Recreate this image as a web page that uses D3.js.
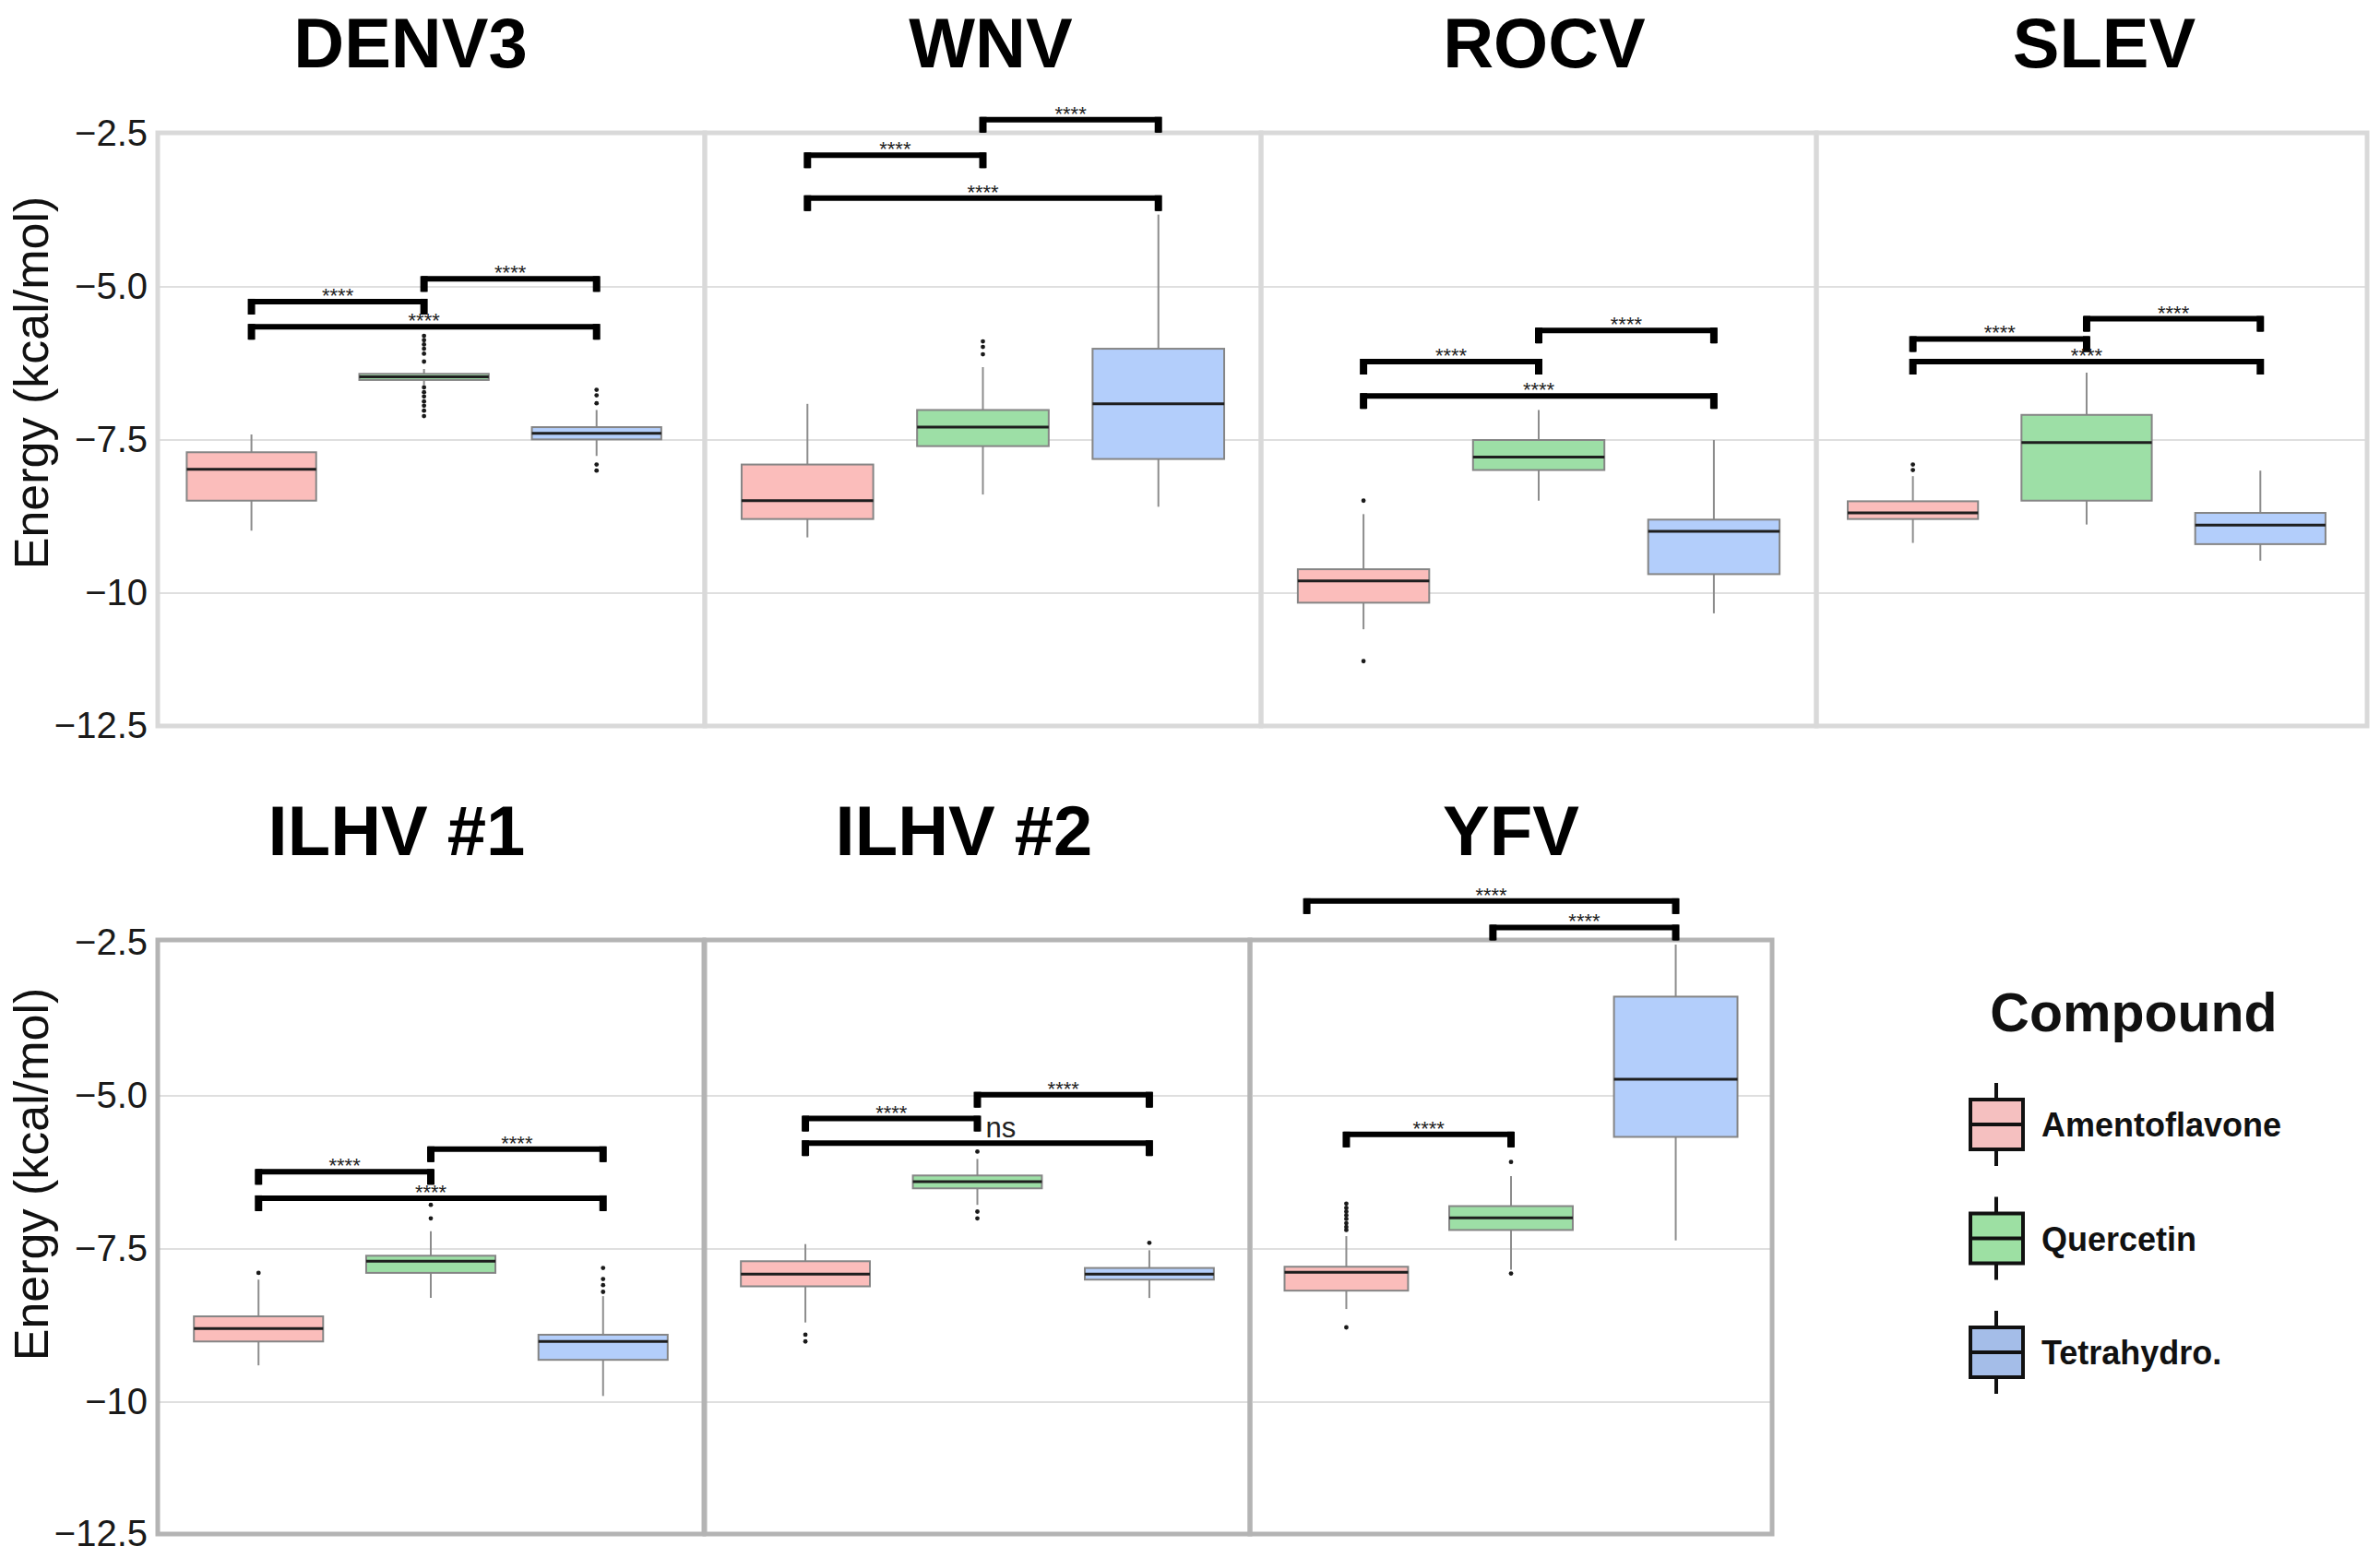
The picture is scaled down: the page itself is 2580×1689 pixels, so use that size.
<!DOCTYPE html>
<html>
<head>
<meta charset="utf-8">
<script src="https://cdn.jsdelivr.net/npm/d3@7"></script>
<style>
  html, body { margin: 0; padding: 0; background: #ffffff; }
  svg { display: block; font-family: "Liberation Sans", Arial, Helvetica, sans-serif; }
</style>
</head>
<body>
<svg id="chart" width="2580" height="1689"></svg>
<script>
// ---------------- DATA ----------------
const viruses = ["DENV3", "WNV", "ROCV", "SLEV", "ILHV #1", "ILHV #2", "YFV"];
const compounds = ["Amentoflavone", "Quercetin", "Tetrahydro."];
const yTickValues = [-2.5, -5, -7.5, -10, -12.5];
const yTickLabels = ["−2.5", "−5.0", "−7.5", "−10", "−12.5"];
const gridValues = [-5, -7.5, -10];

// five-number summaries per virus: [lower whisker, Q1, median, Q3, upper whisker]
const amentoflavoneStats = [
  [-8.98, -8.49, -7.98, -7.70, -7.41],
  [-9.09, -8.79, -8.49, -7.90, -6.91],
  [-10.68, -10.18, -9.80, -9.61, -8.71],
  [-9.18, -8.79, -8.69, -8.50, -8.09],
  [-9.40, -9.01, -8.80, -8.60, -8.00],
  [-8.70, -8.11, -7.91, -7.70, -7.42],
  [-8.48, -8.18, -7.88, -7.79, -7.29]
];
const quercetinStats = [
  [-6.60, -6.52, -6.47, -6.42, -6.34],
  [-8.39, -7.60, -7.29, -7.01, -6.31],
  [-8.49, -7.99, -7.78, -7.50, -7.01],
  [-8.88, -8.49, -7.54, -7.09, -6.40],
  [-8.30, -7.89, -7.70, -7.61, -7.21],
  [-6.78, -6.51, -6.40, -6.30, -6.03],
  [-7.84, -7.19, -6.99, -6.80, -6.31]
];
const tetrahydroStats = [
  [-7.76, -7.49, -7.39, -7.29, -7.01],
  [-8.59, -7.81, -6.91, -6.01, -3.82],
  [-10.38, -9.69, -8.99, -8.80, -7.50],
  [-9.47, -9.20, -8.89, -8.69, -8.00],
  [-9.90, -9.31, -9.01, -8.90, -8.27],
  [-8.30, -8.00, -7.91, -7.81, -7.52],
  [-7.36, -5.67, -4.73, -3.38, -2.53]
];

// outlier points per virus
const amentoflavoneOutliers = [
  [],
  [],
  [-8.49, -11.28],
  [-7.90, -7.99],
  [-7.89],
  [-8.90, -9.01],
  [-6.76, -6.83, -6.89, -6.95, -7.01, -7.08, -7.14, -7.19, -8.78]
];
const quercetinOutliers = [
  [-5.80, -5.87, -5.94, -6.01, -6.09, -6.22, -6.64, -6.72, -6.79, -6.87, -6.94, -7.02, -7.11],
  [-5.89, -5.98, -6.10],
  [],
  [],
  [-6.78, -7.00],
  [-5.91, -6.89, -7.00],
  [-6.08, -7.90]
];
const tetrahydroOutliers = [
  [-6.68, -6.77, -6.90, -7.90, -8.00],
  [],
  [],
  [],
  [-7.81, -7.99, -8.09, -8.20],
  [-7.40],
  []
];

// significance brackets: [virus, from group, to group, level (kcal/mol), label]
const brackets = [
  ["DENV3", 0, 1, -5.24, "****"], ["DENV3", 1, 2, -4.87, "****"], ["DENV3", 0, 2, -5.65, "****"],
  ["WNV", 0, 1, -2.85, "****"], ["WNV", 1, 2, -2.27, "****"], ["WNV", 0, 2, -3.55, "****"],
  ["ROCV", 0, 1, -6.22, "****"], ["ROCV", 1, 2, -5.71, "****"], ["ROCV", 0, 2, -6.78, "****"],
  ["SLEV", 0, 1, -5.85, "****"], ["SLEV", 1, 2, -5.52, "****"], ["SLEV", 0, 2, -6.22, "****"],
  ["ILHV #1", 0, 1, -6.24, "****"], ["ILHV #1", 1, 2, -5.87, "****"], ["ILHV #1", 0, 2, -6.67, "****"],
  ["ILHV #2", 0, 1, -5.37, "****"], ["ILHV #2", 1, 2, -4.98, "****"], ["ILHV #2", 0, 2, -5.77, "ns"],
  ["YFV", 0, 1, -5.63, "****"], ["YFV", 0.89, 2, -2.25, "****"], ["YFV", -0.24, 2, -1.82, "****"]
];

// ---------------- STYLE / LAYOUT ----------------
const boxFills = ["#fbbdbb", "#9ddfa6", "#b3cefb"];
const legendFills = ["#f5c0c0", "#9de0a3", "#a4bde8"];

const rowsLayout = [
  { top: 144, bottom: 787, yTop: 145, y10: 643, titleY: 73, axisTitleY: 415, border: "#d9d9d9" },
  { top: 1019, bottom: 1663, yTop: 1022, y10: 1520, titleY: 927, axisTitleY: 1273, border: "#b4b4b4" }
];
rowsLayout.forEach(r => {
  r.y = d3.scaleLinear().domain([-12.5, -10, -2.5]).range([r.bottom, r.y10, r.yTop]);
});

const panelLayout = [
  { row: 0, x0: 171, x1: 764, align: 0.40, titleX: 445 },
  { row: 0, x0: 764, x1: 1367, align: 0.50, titleX: 1074 },
  { row: 0, x0: 1367, x1: 1969, align: 0.50, titleX: 1674 },
  { row: 0, x0: 1969, x1: 2566, align: 0.43, titleX: 2281 },
  { row: 1, x0: 171, x1: 763, align: 0.50, titleX: 430 },
  { row: 1, x0: 764, x1: 1355, align: 0.50, titleX: 1045 },
  { row: 1, x0: 1355, x1: 1921, align: 0.50, titleX: 1638 }
];

const statsByCompound = [amentoflavoneStats, quercetinStats, tetrahydroStats];
const outliersByCompound = [amentoflavoneOutliers, quercetinOutliers, tetrahydroOutliers];

const svg = d3.select("#chart");

// ---------------- PANELS ----------------
viruses.forEach((virus, i) => {
  const L = panelLayout[i];
  const R = rowsLayout[L.row];
  const y = R.y;
  const x = d3.scaleBand().domain(compounds).range([L.x0, L.x1])
    .paddingInner(0.25).paddingOuter(0.21).align(L.align);
  const bw = x.bandwidth();
  const cx = c => x(c) + bw / 2;

  const g = svg.append("g").attr("class", "panel");

  // gridlines
  g.selectAll("line.grid").data(gridValues).join("line")
    .attr("class", "grid")
    .attr("x1", L.x0).attr("x2", L.x1)
    .attr("y1", d => y(d)).attr("y2", d => y(d))
    .attr("stroke", "#dfdfdf").attr("stroke-width", 2);

  const boxes = compounds.map((c, j) => ({
    c, j, s: statsByCompound[j][i], o: outliersByCompound[j][i]
  }));

  const bg = g.selectAll("g.box").data(boxes).join("g").attr("class", "box");

  // whiskers
  bg.append("line")
    .attr("x1", d => cx(d.c)).attr("x2", d => cx(d.c))
    .attr("y1", d => y(d.s[4])).attr("y2", d => y(d.s[3]))
    .attr("stroke", "#8c8c8c").attr("stroke-width", 2);
  bg.append("line")
    .attr("x1", d => cx(d.c)).attr("x2", d => cx(d.c))
    .attr("y1", d => y(d.s[1])).attr("y2", d => y(d.s[0]))
    .attr("stroke", "#8c8c8c").attr("stroke-width", 2);

  // box
  bg.append("rect")
    .attr("x", d => x(d.c)).attr("width", bw)
    .attr("y", d => y(d.s[3])).attr("height", d => y(d.s[1]) - y(d.s[3]))
    .attr("fill", d => boxFills[d.j])
    .attr("stroke", "#858585").attr("stroke-width", 2);

  // median
  bg.append("line")
    .attr("x1", d => x(d.c)).attr("x2", d => x(d.c) + bw)
    .attr("y1", d => y(d.s[2])).attr("y2", d => y(d.s[2]))
    .attr("stroke", "#1e1e1e").attr("stroke-width", 3);

  // outliers
  bg.each(function (d) {
    d3.select(this).selectAll("circle").data(d.o).join("circle")
      .attr("cx", cx(d.c)).attr("cy", v => y(v)).attr("r", 2.4)
      .attr("fill", "#1a1a1a");
  });

  // panel border
  g.append("rect")
    .attr("x", L.x0).attr("y", R.top)
    .attr("width", L.x1 - L.x0).attr("height", R.bottom - R.top)
    .attr("fill", "none").attr("stroke", R.border).attr("stroke-width", 5);

  // significance brackets
  const xi = d3.scaleLinear().domain([0, 2]).range([cx(compounds[0]), cx(compounds[2])]);
  const bData = brackets.filter(b => b[0] === virus);
  const tick = 14;
  g.selectAll("path.bracket").data(bData).join("path")
    .attr("class", "bracket")
    .attr("d", b => {
      const x1 = xi(b[1]), x2 = xi(b[2]), yy = y(b[3]);
      return `M${x1},${yy + tick}V${yy}H${x2}V${yy + tick}`;
    })
    .attr("fill", "none").attr("stroke", "#000").attr("stroke-width", 6)
    .attr("stroke-linejoin", "miter");
  // heavier end ticks
  const ends = bData.flatMap(b => [{ xv: xi(b[1]), yy: y(b[3]) }, { xv: xi(b[2]), yy: y(b[3]) }]);
  g.selectAll("line.bend").data(ends).join("line")
    .attr("class", "bend")
    .attr("x1", e => e.xv).attr("x2", e => e.xv)
    .attr("y1", e => e.yy - 3).attr("y2", e => e.yy + tick)
    .attr("stroke", "#000").attr("stroke-width", 8);

  g.selectAll("text.sig").data(bData).join("text")
    .attr("class", "sig")
    .attr("x", b => b[4] === "ns" ? (xi(b[1]) + xi(b[2])) / 2 + 9 : (xi(b[1]) + xi(b[2])) / 2)
    .attr("y", b => b[4] === "ns" ? y(b[3]) - 6 : y(b[3]) + 1)
    .attr("text-anchor", b => b[4] === "ns" ? "start" : "middle")
    .attr("font-size", b => b[4] === "ns" ? 31 : 22)
    .attr("fill", "#222")
    .text(b => b[4]);

  // title
  svg.append("text")
    .attr("x", L.titleX).attr("y", R.titleY)
    .attr("text-anchor", "middle")
    .attr("font-size", 76).attr("font-weight", "bold")
    .attr("fill", "#000")
    .text(virus);
});

// ---------------- Y AXES ----------------
rowsLayout.forEach(R => {
  const ax = svg.append("g")
    .attr("transform", `translate(171,0)`)
    .call(d3.axisLeft(R.y).tickValues(yTickValues)
      .tickFormat((d, k) => yTickLabels[k]).tickSize(0).tickPadding(11));
  ax.select(".domain").remove();
  ax.selectAll("text")
    .attr("font-size", 40)
    .attr("font-family", "'Liberation Sans', Arial, Helvetica, sans-serif")
    .attr("fill", "#1a1a1a");

  svg.append("text")
    .attr("transform", `translate(52,${R.axisTitleY}) rotate(-90)`)
    .attr("text-anchor", "middle")
    .attr("font-size", 52)
    .attr("fill", "#111")
    .text("Energy (kcal/mol)");
});

// ---------------- LEGEND ----------------
const legend = svg.append("g").attr("class", "legend");
legend.append("text")
  .attr("x", 2313).attr("y", 1118)
  .attr("text-anchor", "middle")
  .attr("font-size", 59).attr("font-weight", "bold")
  .attr("fill", "#111")
  .text("Compound");

const legendY = d3.scalePoint().domain(compounds).range([1219, 1466]);
const items = legend.selectAll("g.item").data(compounds).join("g")
  .attr("class", "item")
  .attr("transform", c => `translate(0,${legendY(c)})`);
items.append("line")
  .attr("x1", 2164).attr("x2", 2164).attr("y1", -45).attr("y2", 45)
  .attr("stroke", "#111").attr("stroke-width", 4);
items.append("rect")
  .attr("x", 2136).attr("y", -27).attr("width", 57).attr("height", 54)
  .attr("fill", (c, k) => legendFills[k])
  .attr("stroke", "#111").attr("stroke-width", 4);
items.append("line")
  .attr("x1", 2136).attr("x2", 2193).attr("y1", 0).attr("y2", 0)
  .attr("stroke", "#111").attr("stroke-width", 4);
items.append("text")
  .attr("x", 2213).attr("y", 13)
  .attr("font-size", 36).attr("font-weight", "bold")
  .attr("fill", "#111")
  .text(c => c);
</script>
</body>
</html>
